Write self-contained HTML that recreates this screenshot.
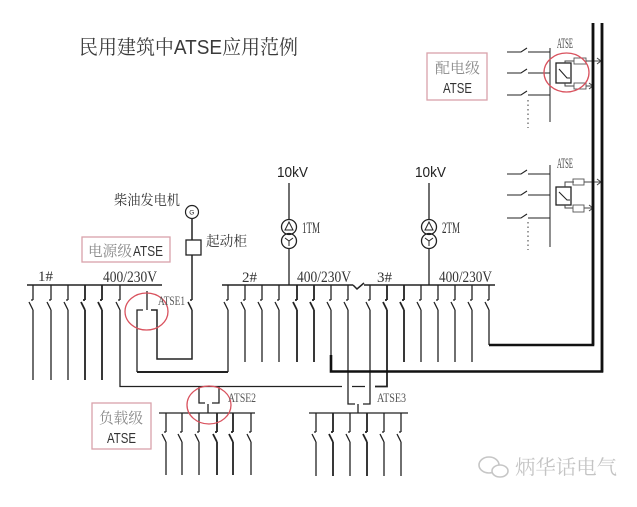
<!DOCTYPE html>
<html><head><meta charset="utf-8"><style>
html,body{margin:0;padding:0;background:#fff;}
svg{display:block;}
.s{font-family:"Liberation Sans","Noto Sans CJK SC",sans-serif;}
.r{font-family:"Liberation Serif","Noto Serif CJK SC",serif;}
.c{font-family:"Noto Serif CJK SC","Noto Sans CJK SC",serif;}
</style></head><body>
<svg width="637" height="507" viewBox="0 0 637 507" xmlns="http://www.w3.org/2000/svg">
<rect width="637" height="507" fill="#fff"/>

<!-- Title -->
<text x="79" y="54" font-size="20" fill="#3a3a3a" class="c" textLength="219" lengthAdjust="spacingAndGlyphs">民用建筑中<tspan class="s">ATSE</tspan>应用范例</text>

<g fill="none" stroke="#222" stroke-width="1.3">
<!-- Buses -->
<path d="M27,285H162 M222,285H353 M353,285L357,289L364,283 M364,285H495" stroke-width="1.5"/>

<!-- Transformers -->
<path d="M289,183V220 M289,248.5V285 M429,183V220 M429,248.5V285"/>
<circle cx="289" cy="227" r="7.5"/><circle cx="289" cy="241" r="7.5"/>
<circle cx="429" cy="227" r="7.5"/><circle cx="429" cy="241" r="7.5"/>
<path d="M289,222L285,230H293Z M289,241V246 M289,241L285,238 M289,241L293,238" stroke-width="1"/>
<path d="M429,222L425,230H433Z M429,241V246 M429,241L425,238 M429,241L433,238" stroke-width="1"/>

<!-- Bus 1 branches -->
<path d="M33,285V300M31,300H33M33,310L29,302M33,310V380
M51,285V300M49,300H51M51,310L47,302M51,310V380
M68,285V300M66,300H68M68,310L64,302M68,310V380
M120,285V300M118,300H120M120,310L116,302M120,310V386.5H342"/>
<path d="M85,285V300M83,300H85M85,310L81,302M85,310V380
M102,285V300M100,300H102M102,310L98,302M102,310V380" stroke-width="1.8"/>

<!-- Generator -->
<circle cx="192" cy="212" r="6.5" stroke-width="1.2"/>
<rect x="186" y="240" width="15" height="15" stroke-width="1.3"/>
<path d="M192,218.5V240 M192,255V300M190,300H192M192,310L188,302M192,310V359H157V310H151" stroke-width="1.5"/>

<!-- ATSE1 -->
<path d="M147,291V310 M143,310H137V372"/>
<path d="M137,372H228" stroke-width="2"/>

<!-- Bus 2 branches -->
<path d="M228,285V300M226,300H228M228,310L224,302M228,310V372
M245,285V300M243,300H245M245,310L241,302M245,310V362
M262,285V300M260,300H262M262,310L258,302M262,310V362
M279,285V300M277,300H279M279,310L275,302M279,310V362
M331,285V300M329,300H331M331,310L327,302M331,310V356
M348,285V300M346,300H348M348,310L344,302M348,310V404H355"/>
<path d="M297,285V300M295,300H297M297,310L293,302M297,310V362
M314,285V300M312,300H314M314,310L310,302M314,310V362" stroke-width="1.8"/>

<!-- Bus 3 branches -->
<path d="M370,285V300M368,300H370M370,310L366,302M370,310V404H363
M421,285V300M419,300H421M421,310L417,302M421,310V362
M438,285V300M436,300H438M438,310L434,302M438,310V362
M455,285V300M453,300H455M455,310L451,302M455,310V362
M472,285V300M470,300H472M472,310L468,302M472,310V362
M489,285V300M487,300H489M489,310L485,302M489,310V345
M352,386.5H365"/>
<path d="M387,285V300M385,300H387M387,310L383,302M387,310V386.5H375
M404,285V300M402,300H404M404,310L400,302M404,310V362" stroke-width="1.8"/>

<!-- Thick feeders -->
<path d="M331,355V371.5H602V23 M489,345H593V23" stroke="#111" stroke-width="2.6"/>

<!-- ATSE2 -->
<path d="M199,386.5V403H205 M219,386.5V403H212 M208,404V413 M159,413H255"/>
<path d="M166,413V432M164,432H166M166,442L162,434M166,442V475
M182,413V432M180,432H182M182,442L178,434M182,442V475
M199,413V432M197,432H199M199,442L195,434M199,442V475
M251,413V432M249,432H251M251,442L247,434M251,442V475"/>
<path d="M217,413V432M215,432H217M217,442L213,434M217,442V475
M233,413V432M231,432H233M233,442L229,434M233,442V475" stroke-width="1.8"/>

<!-- ATSE3 -->
<path d="M358,404V413 M309,413H408"/>
<path d="M316,413V432M314,432H316M316,442L312,434M316,442V476
M350,413V432M348,432H350M350,442L346,434M350,442V476
M384,413V432M382,432H384M384,442L380,434M384,442V476
M401,413V432M399,432H401M401,442L397,434M401,442V476"/>
<path d="M333,413V432M331,432H333M333,442L329,434M333,442V476
M367,413V432M365,432H367M367,442L363,434M367,442V476" stroke-width="1.8"/>

<!-- Top right group 1 -->
<path d="M550,48V122" stroke="#555"/>
<path d="M507,52H521L527,48 M528,52H550 M507,73H521L527,69 M528,73H550 M507,95H521L527,91 M528,95H550" stroke-width="1.1"/>
<path d="M528,100V128" stroke="#666" stroke-dasharray="1.5,3"/>
<rect x="556" y="63" width="15" height="20"/>
<path d="M559,69L567,78H570" stroke-width="1.1"/>
<path d="M565,63V61H574 M586,61H601 M597,58L601,61L597,64 M565,83V86H574 M586,86H592 M589,83L593,86L589,89" stroke-width="1" stroke="#444"/>
<rect x="574" y="58" width="12" height="6" stroke-width="0.9" stroke="#555"/>
<rect x="574" y="83" width="12" height="6" stroke-width="0.9" stroke="#555"/>

<!-- Top right group 2 -->
<path d="M550,165V247" stroke="#555"/>
<path d="M507,174H521L527,170 M528,174H550 M507,195H521L527,191 M528,195H550 M507,218H521L527,214 M528,218H550" stroke-width="1.1"/>
<path d="M528,222V250" stroke="#666" stroke-dasharray="1.5,3"/>
<rect x="556" y="187" width="15" height="18"/>
<path d="M559,192L567,200H570" stroke-width="1.1"/>
<path d="M565,187V182H574 M584,182H601 M597,179L601,182L597,185 M565,205V208H573 M584,208H592 M589,205L593,208L589,211" stroke-width="1" stroke="#444"/>
<rect x="573" y="179" width="11" height="6" stroke-width="0.9" stroke="#555"/>
<rect x="573" y="205" width="11" height="7" stroke-width="0.9" stroke="#555"/>

<!-- Thick verticals top-right -->
<path d="M593,23V345 M602,23V372" stroke="#111" stroke-width="2.6"/>
</g>

<!-- Pink label boxes -->
<g fill="none" stroke="#d9a2aa" stroke-width="1.3">
<rect x="82" y="237" width="88" height="25"/>
<rect x="92" y="403" width="59" height="46"/>
<rect x="427" y="53" width="60" height="47"/>
</g>

<!-- Red circles -->
<g fill="none" stroke="#d9525e" stroke-width="1.3">
<ellipse cx="146.5" cy="311.5" rx="21.5" ry="18.5"/>
<ellipse cx="209" cy="405" rx="22" ry="19"/>
<ellipse cx="566.5" cy="72.5" rx="22.5" ry="19.5"/>
</g>

<!-- Labels -->
<g fill="#222">
<text x="277" y="177" font-size="15" class="s" textLength="31" lengthAdjust="spacingAndGlyphs">10kV</text>
<text x="415" y="177" font-size="15" class="s" textLength="31" lengthAdjust="spacingAndGlyphs">10kV</text>
<text x="302" y="233" font-size="16" class="r" fill="#333" textLength="18" lengthAdjust="spacingAndGlyphs">1TM</text>
<text x="442" y="233" font-size="16" class="r" fill="#333" textLength="18" lengthAdjust="spacingAndGlyphs">2TM</text>

<text x="38" y="281" font-size="15" class="r" fill="#333" textLength="15" lengthAdjust="spacingAndGlyphs">1#</text>
<text x="103" y="282" font-size="16" class="r" fill="#333" textLength="54" lengthAdjust="spacingAndGlyphs">400/230V</text>
<text x="242" y="282" font-size="15" class="r" fill="#333" textLength="15" lengthAdjust="spacingAndGlyphs">2#</text>
<text x="297" y="282" font-size="16" class="r" fill="#333" textLength="54" lengthAdjust="spacingAndGlyphs">400/230V</text>
<text x="377" y="282" font-size="15" class="r" fill="#333" textLength="15" lengthAdjust="spacingAndGlyphs">3#</text>
<text x="439" y="282" font-size="16" class="r" fill="#333" textLength="53" lengthAdjust="spacingAndGlyphs">400/230V</text>

<text x="114" y="205" font-size="14" class="c" fill="#333" textLength="66" lengthAdjust="spacingAndGlyphs">柴油发电机</text>
<text x="206" y="246" font-size="14" class="c" fill="#333" textLength="41" lengthAdjust="spacingAndGlyphs">起动柜</text>
<text x="189.3" y="214.5" font-size="6.5" class="s">G</text>

<text x="88" y="256" font-size="15" class="c" fill="#8a8a8a" textLength="44" lengthAdjust="spacingAndGlyphs">电源级</text>
<text x="133" y="256" font-size="15" class="s" fill="#333" textLength="30" lengthAdjust="spacingAndGlyphs">ATSE</text>
<text x="99" y="423" font-size="15" class="c" fill="#8a8a8a" textLength="44" lengthAdjust="spacingAndGlyphs">负载级</text>
<text x="107" y="443" font-size="15" class="s" fill="#333" textLength="29" lengthAdjust="spacingAndGlyphs">ATSE</text>
<text x="435" y="73" font-size="15" class="c" fill="#8a8a8a" textLength="45" lengthAdjust="spacingAndGlyphs">配电级</text>
<text x="443" y="93" font-size="15" class="s" fill="#333" textLength="29" lengthAdjust="spacingAndGlyphs">ATSE</text>

<text x="557" y="48" font-size="15" class="r" fill="#444" textLength="16" lengthAdjust="spacingAndGlyphs">ATSE</text>
<text x="557" y="168" font-size="15" class="r" fill="#444" textLength="16" lengthAdjust="spacingAndGlyphs">ATSE</text>

<text x="158" y="305" font-size="13" class="r" fill="#555" textLength="27" lengthAdjust="spacingAndGlyphs">ATSE1</text>
<text x="228" y="402" font-size="13" class="r" fill="#555" textLength="28" lengthAdjust="spacingAndGlyphs">ATSE2</text>
<text x="377" y="402" font-size="13" class="r" fill="#555" textLength="29" lengthAdjust="spacingAndGlyphs">ATSE3</text>
</g>

<!-- Watermark -->
<g fill="none" stroke="#c6c6c6" stroke-width="1.6">
<ellipse cx="489" cy="465" rx="10" ry="8"/>
<ellipse cx="500" cy="471" rx="8" ry="6" fill="#fff"/>
</g>
<text x="515" y="474" font-size="20" class="c" fill="#c4c4c4" textLength="102" lengthAdjust="spacingAndGlyphs">炳华话电气</text>
</svg>
</body></html>
